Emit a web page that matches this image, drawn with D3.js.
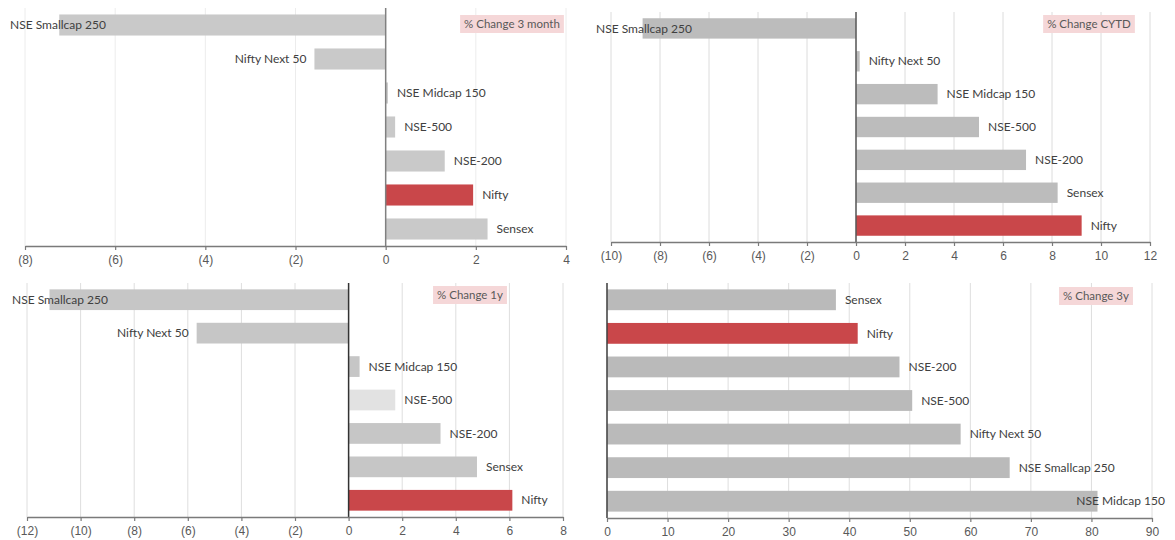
<!DOCTYPE html>
<html>
<head>
<meta charset="utf-8">
<script src="https://cdn.jsdelivr.net/npm/d3@7"></script>
<style>
  body { margin: 0; background: #fff; }
  svg { display: block; font-family: Lato, "Open Sans", sans-serif; }
  .lbl { font-size: 12px; fill: #404040; }
  .tick text { font-size: 12px; fill: #595959; }
  .ttl { font-size: 11.5px; fill: #595959; }
</style>
</head>
<body>
<svg id="chart" width="1175" height="540"></svg>
<script>
// % change
var cats3m = ["NSE Smallcap 250", "Nifty Next 50", "NSE Midcap 150", "NSE-500", "NSE-200", "Nifty", "Sensex"];
var vals3m = [-7.24, -1.58, 0.05, 0.21, 1.31, 1.94, 2.26];

var catsYtd = ["NSE Smallcap 250", "Nifty Next 50", "NSE Midcap 150", "NSE-500", "NSE-200", "Sensex", "Nifty"];
var valsYtd = [-8.71, 0.15, 3.33, 5.02, 6.94, 8.23, 9.21];

var cats1y = ["NSE Smallcap 250", "Nifty Next 50", "NSE Midcap 150", "NSE-500", "NSE-200", "Sensex", "Nifty"];
var vals1y = [-11.16, -5.67, 0.41, 1.74, 3.43, 4.79, 6.11];

var cats3y = ["Sensex", "Nifty", "NSE-200", "NSE-500", "Nifty Next 50", "NSE Smallcap 250", "NSE Midcap 150"];
var vals3y = [37.8, 41.4, 48.3, 50.4, 58.4, 66.5, 81.0];

var ticks3m = [-8, -6, -4, -2, 0, 2, 4];
var ticksYtd = [-10, -8, -6, -4, -2, 0, 2, 4, 6, 8, 10, 12];
var ticks1y = [-12, -10, -8, -6, -4, -2, 0, 2, 4, 6, 8];
var ticks3y = [0, 10, 20, 30, 40, 50, 60, 70, 80, 90];

var titles = ["% Change 3 month", "% Change CYTD", "% Change 1y", "% Change 3y"];

var RED = "#c9474a";

var panels = [
  {cats: cats3m, vals: vals3m, ticks: ticks3m, title: titles[0], x0: 25, x1: 566, y0: 8, y1: 246,
   bar: "#c9c9c9", grid: "#ececec", zero: "#808080", tx: 512, ty: 24},
  {cats: catsYtd, vals: valsYtd, ticks: ticksYtd, title: titles[1], x0: 611, x1: 1150, y0: 12, y1: 242,
   bar: "#bcbcbc", grid: "#dcdcdc", zero: "#595959", tx: 1089, ty: 24},
  {cats: cats1y, vals: vals1y, ticks: ticks1y, title: titles[2], x0: 27, x1: 563, y0: 283, y1: 517,
   bar: "#c6c6c6", grid: "#dedede", zero: "#333333", tx: 470, ty: 295, lightCat: "NSE-500"},
  {cats: cats3y, vals: vals3y, ticks: ticks3y, title: titles[3], x0: 607, x1: 1152, y0: 283, y1: 518,
   bar: "#bababa", grid: "#dedede", zero: "#404040", tx: 1096, ty: 296}
];

var svg = d3.select("#chart");

function fmt(v){
  return v < 0 ? "(" + Math.abs(v) + ")" : "" + v;
}

panels.forEach(function(p){
  var g = svg.append("g");
  var ext = d3.extent(p.ticks);
  var x = d3.scaleLinear().domain(ext).range([p.x0, p.x1]);
  var y = d3.scaleBand().domain(p.cats).range([p.y0, p.y1]).paddingInner(0.38).paddingOuter(0.19);

  // gridlines
  g.selectAll(".grid").data(p.ticks).enter().append("line")
    .attr("x1", function(d){ return x(d); }).attr("x2", function(d){ return x(d); })
    .attr("y1", p.y0).attr("y2", p.y1)
    .attr("stroke", p.grid).attr("stroke-width", 1);

  // bars
  g.selectAll(".bar").data(p.cats).enter().append("rect")
    .attr("x", function(d, i){ return x(Math.min(0, p.vals[i])); })
    .attr("y", function(d){ return y(d); })
    .attr("width", function(d, i){ return Math.abs(x(p.vals[i]) - x(0)); })
    .attr("height", y.bandwidth())
    .attr("fill", function(d){
      if(d == "Nifty") return RED;
      if(d == p.lightCat) return "#e2e2e2";
      return p.bar;
    });

  // zero line
  g.append("line").attr("x1", x(0)).attr("x2", x(0)).attr("y1", p.y0).attr("y2", p.y1)
    .attr("stroke", p.zero).attr("stroke-width", 1.5);

  // x axis
  var ax = g.append("g").attr("transform", "translate(0," + p.y1 + ")")
    .call(d3.axisBottom(x).tickValues(p.ticks).tickFormat(fmt).tickSizeInner(4).tickSizeOuter(0).tickPadding(5));
  ax.select(".domain").attr("stroke", "#7a7a7a").attr("stroke-width", 1.5);
  ax.selectAll(".tick line").attr("stroke", "#7a7a7a").attr("stroke-width", 1.2);

  // labels (kept inside the panel, like the original)
  p.cats.forEach(function(c, i){
    var v = p.vals[i];
    var t = g.append("text").attr("class", "lbl").text(c)
      .attr("y", y(c) + y.bandwidth() / 2).attr("dy", "0.35em");
    var w = t.node().getComputedTextLength();
    var sx;
    if(v < 0){
      sx = x(v) - 8 - w;
      if(sx < p.x0 - 15) sx = p.x0 - 15;
    } else {
      sx = x(v) + 9;
      if(sx + w > p.x1 + 13) sx = p.x1 + 13 - w;
    }
    t.attr("x", sx);
  });

  // title tag
  var tt = g.append("text").attr("class", "ttl").text(p.title)
    .attr("x", p.tx).attr("y", p.ty).attr("dy", "0.35em").attr("text-anchor", "middle");
  var tw = tt.node().getComputedTextLength();
  g.insert("rect", function(){ return tt.node(); })
    .attr("x", p.tx - tw / 2 - 4).attr("y", p.ty - 9).attr("width", tw + 8).attr("height", 18)
    .attr("fill", "#f5d7d8");
});
</script>
</body>
</html>
